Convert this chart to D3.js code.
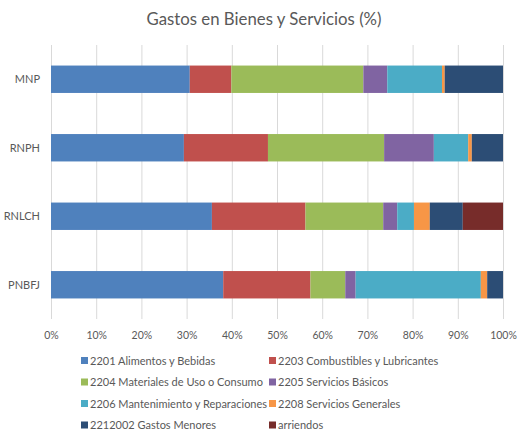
<!DOCTYPE html>
<html>
<head>
<meta charset="utf-8">
<script src="https://cdn.jsdelivr.net/npm/d3@7"></script>
<style>
  body { margin: 0; background: #fff; }
  text { font-family: Lato, "Open Sans", sans-serif; fill: #595959; }
</style>
</head>
<body>
<div id="draw-space"></div>
<script>
const categories = ['MNP', 'RNPH', 'RNLCH', 'PNBFJ'];
const series = [
  '2201 Alimentos y Bebidas',
  '2203 Combustibles y Lubricantes',
  '2204 Materiales de Uso o Consumo',
  '2205 Servicios Básicos',
  '2206 Mantenimiento y Reparaciones',
  '2208 Servicios Generales',
  '2212002 Gastos Menores',
  'arriendos'
];
// percent per category, in series order
const mnp   = [30.7, 9.2, 29.2, 5.3, 12.1, 0.6, 12.9, 0];
const rnph  = [29.4, 18.6, 25.7, 11.0, 7.6, 0.8, 6.9, 0];
const rnlch = [35.6, 20.7, 17.2, 3.1, 3.7, 3.5, 7.3, 8.9];
const pnbfj = [38.1, 19.3, 7.7, 2.3, 27.7, 1.4, 3.5, 0];
const tickValues = [0, 10, 20, 30, 40, 50, 60, 70, 80, 90, 100];
const colors = ['#4F81BD', '#C0504D', '#9BBB59', '#8064A2', '#4BACC6', '#F79646', '#2C4D75', '#772C2A'];

const rows = [mnp, rnph, rnlch, pnbfj].map((vals, i) => {
  const r = { cat: categories[i] };
  series.forEach((s, j) => r[s] = vals[j]);
  return r;
});

const width = 518, height = 431;
const svg = d3.select('#draw-space').append('svg')
              .attr('width', width)
              .attr('height', height);

const xScale = d3.scaleLinear().domain([0, 100]).range([51, 503]);
const yScale = d3.scaleBand().domain(categories).range([45, 319]).paddingInner(0.6).paddingOuter(0.3);
const cScale = d3.scaleOrdinal().domain(series).range(colors);

svg.append('text')
   .attr('x', 264)
   .attr('y', 25)
   .attr('text-anchor', 'middle')
   .attr('font-size', 16.8)
   .text('Gastos en Bienes y Servicios (%)');

svg.selectAll('.grid')
   .data(tickValues)
   .enter()
   .append('line')
     .attr('class', 'grid')
     .attr('x1', d => xScale(d) + 0.5)
     .attr('x2', d => xScale(d) + 0.5)
     .attr('y1', 45)
     .attr('y2', 319)
     .attr('stroke', '#d9d9d9')
     .attr('stroke-width', 1);

const stacked = d3.stack().keys(series)(rows);

svg.selectAll('.layer')
   .data(stacked)
   .enter()
   .append('g')
     .attr('class', 'layer')
     .attr('fill', d => cScale(d.key))
   .selectAll('rect')
   .data(d => d)
   .enter()
   .append('rect')
     .attr('x', d => xScale(d[0]))
     .attr('y', d => yScale(d.data.cat))
     .attr('width', d => xScale(d[1]) - xScale(d[0]))
     .attr('height', yScale.bandwidth());

const xAxis = d3.axisBottom(xScale)
                .tickValues(tickValues)
                .tickFormat(d => d + '%')
                .tickSize(0);
const gx = svg.append('g')
              .attr('transform', 'translate(0, 329)')
              .call(xAxis);
gx.select('.domain').remove();
gx.selectAll('text').attr('font-size', 10.5).attr('fill', '#595959').style('font-family', 'Lato, sans-serif');

svg.selectAll('.cat-label')
   .data(categories)
   .enter()
   .append('text')
     .attr('class', 'cat-label')
     .attr('x', 40)
     .attr('y', d => yScale(d) + yScale.bandwidth() / 2 + 4)
     .attr('text-anchor', 'end')
     .attr('font-size', 11)
     .text(d => d);

const legend = svg.append('g');
const items = legend.selectAll('.legend-item')
                    .data(series)
                    .enter()
                    .append('g')
                    .attr('class', 'legend-item')
                    .attr('transform', (d, i) => `translate(${i % 2 === 0 ? 81 : 269}, ${357 + Math.floor(i / 2) * 21.5})`);

items.append('rect')
     .attr('width', 7)
     .attr('height', 7)
     .attr('fill', d => cScale(d));

items.append('text')
     .attr('x', 9)
     .attr('y', 7.5)
     .attr('font-size', 11)
     .text(d => d);
</script>
</body>
</html>
